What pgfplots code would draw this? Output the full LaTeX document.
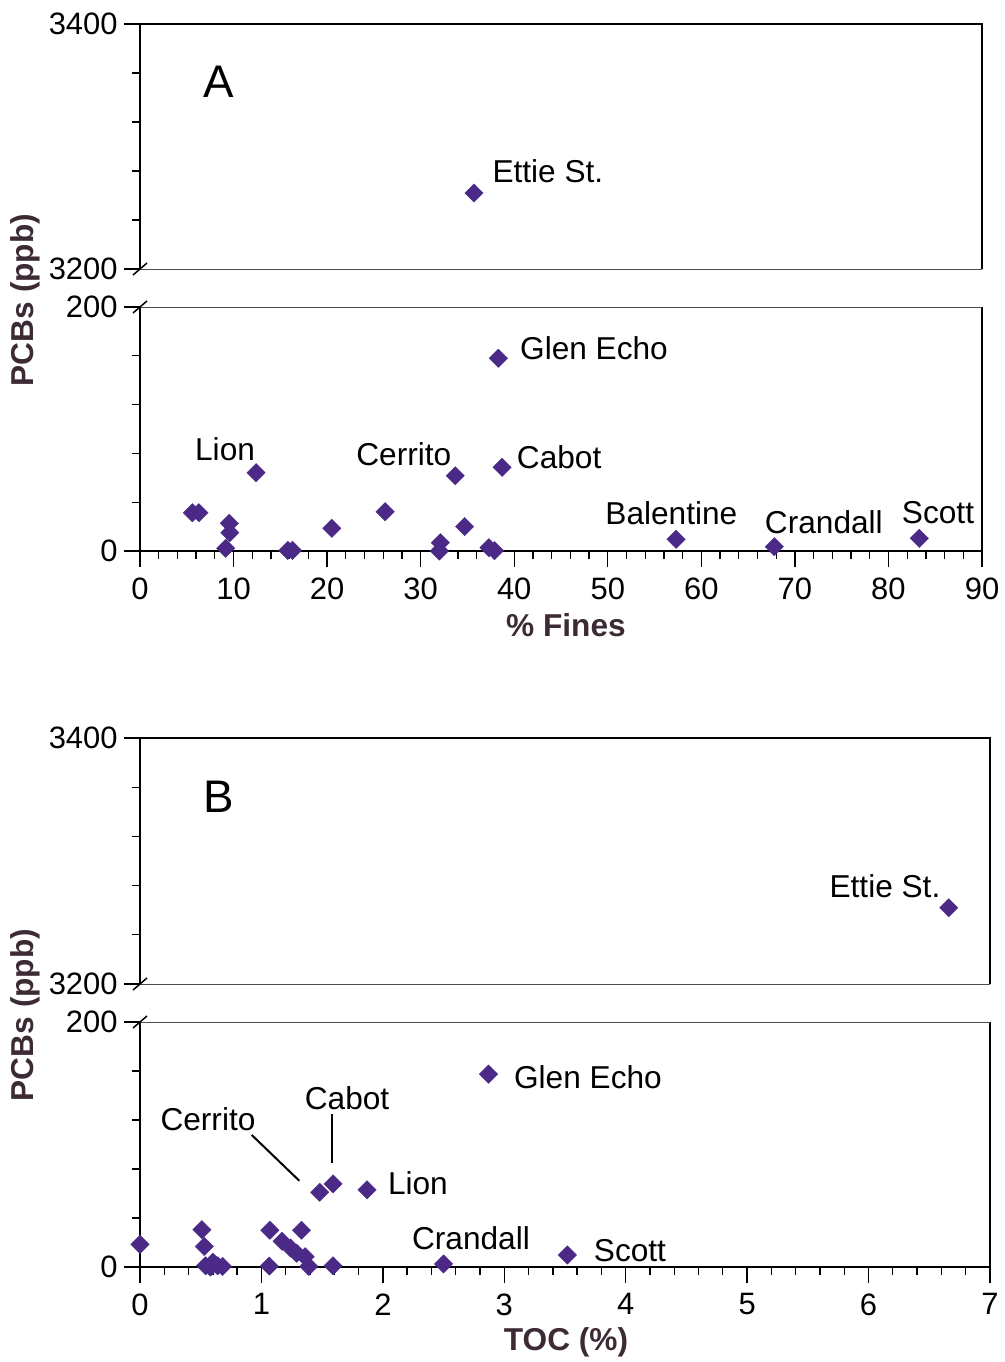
\documentclass[border=0pt]{standalone}
\usepackage{fontspec}
\setmainfont{Liberation Sans}
\usepackage{pgfplots}
\pgfplotsset{compat=1.18}
\definecolor{mk}{RGB}{75,42,135}
\definecolor{lab}{RGB}{60,42,52}
\pgfplotsset{
  brk/.style={
    scale only axis, clip=false,
    axis line style={draw=none},
    tick align=outside,
    major tick length=1.6mm, minor tick length=0.8mm,
    every tick/.style={black, line width=0.13mm},
    every minor tick/.style={black, line width=0.13mm},
    ticklabel style={font=\fontsize{8.8pt}{10pt}\selectfont},
    yticklabel style={xshift=0.6mm},
    xticklabel style={yshift=0.2mm},
    /pgf/number format/assume math mode=true,
    /pgf/number format/1000 sep={},
    scaled ticks=false,
    ytick pos=left, xtick pos=bottom,
    anchor=north west,
  },
  pts/.style={only marks, mark=square*, mark size=1.85pt, color=mk,
    mark options={draw=mk, fill=mk, line width=0.1pt, rotate=45}},
}
\tikzset{lbl/.style={font=\fontsize{9pt}{11pt}\selectfont, inner sep=0pt, anchor=center},
  big/.style={font=\fontsize{13pt}{15pt}\selectfont, inner sep=0pt},
  axl/.style={font=\fontsize{9pt}{11pt}\selectfont\bfseries, text=lab, inner sep=0pt}}
\newcommand{\topframe}{%
  \draw[line width=0.25mm] (rel axis cs:0,0) -- (rel axis cs:0,1) -- (rel axis cs:1,1) -- (rel axis cs:1,0);
  \draw[line width=0.1mm, black!70] (rel axis cs:0,0) -- (rel axis cs:1,0);
  \draw[line width=0.15mm] (rel axis cs:0,0) ++(-0.7mm,-0.6mm) -- ++(1.4mm,1.2mm);}
\newcommand{\botframe}{%
  \draw[line width=0.25mm] (rel axis cs:0,1) -- (rel axis cs:0,0) -- (rel axis cs:1,0) -- (rel axis cs:1,1);
  \draw[line width=0.1mm, black!70] (rel axis cs:0,1) -- (rel axis cs:1,1);
  \draw[line width=0.15mm] (rel axis cs:0,1) ++(-0.7mm,-0.6mm) -- ++(1.4mm,1.2mm);}
\begin{document}
\begin{tikzpicture}
\useasboundingbox (0,0) rectangle (100.4mm,-136.2mm);
% ---------------- Panel A top
\begin{axis}[brk, at={(14mm,-2.4mm)}, width=84.2mm, height=24.5mm,
  xmin=0, xmax=90, ymin=3200, ymax=3400,
  xtick=\empty, ytick={3200,3400}, minor ytick={3240,3280,3320,3360}]
\topframe
\addplot[pts] coordinates {(35.7,3262)};
\node[lbl] at (axis cs:43.6,3280) {Ettie St.};
\node[big] at (axis cs:8.44,3352.7) {A};
\end{axis}
% ---------------- Panel A bottom
\begin{axis}[brk, at={(14mm,-30.7mm)}, width=84.2mm, height=24.4mm,
  xmin=0, xmax=90, ymin=0, ymax=200,
  xtick={0,10,...,90}, minor x tick num=4,
  ytick={0,200}, minor ytick={40,80,120,160}]
\botframe
\addplot[pts] coordinates {
(5.6,31.4) (6.3,31.4) (9.16,2.2) (9.55,22.7) (9.6,15) (12.4,64.2)
(15.8,0.5) (16.3,0.5) (20.5,18.6) (26.2,32.2) (32.0,0) (32.1,6.8)
(33.7,61.7) (34.7,20) (37.3,2.7) (37.9,0.3) (38.3,158) (38.7,68.6)
(57.3,9.6) (67.8,3.5) (83.3,10.4)};
\node[lbl] at (axis cs:48.53,166.4) {Glen Echo};
\node[lbl] at (axis cs:9.09,83.6) {Lion};
\node[lbl] at (axis cs:28.2,79.5) {Cerrito};
\node[lbl] at (axis cs:44.8,77.0) {Cabot};
\node[lbl] at (axis cs:56.8,31.1) {Balentine};
\node[lbl] at (axis cs:73.1,23.8) {Crandall};
\node[lbl] at (axis cs:85.3,31.1) {Scott};
\end{axis}
\node[axl] at (56.6mm,-62.5mm) {\% Fines};
\node[axl, rotate=90] at (2.5mm,-30mm) {PCBs (ppb)};
% ---------------- Panel B top
\begin{axis}[brk, at={(14mm,-73.8mm)}, width=85mm, height=24.6mm,
  xmin=0, xmax=7, ymin=3200, ymax=3400,
  xtick=\empty, ytick={3200,3400}, minor ytick={3240,3280,3320,3360}]
\topframe
\addplot[pts] coordinates {(6.66,3262)};
\node[lbl] at (axis cs:6.135,3279.7) {Ettie St.};
\node[big] at (axis cs:0.65,3352) {B};
\end{axis}
% ---------------- Panel B bottom
\begin{axis}[brk, at={(14mm,-102.2mm)}, width=85mm, height=24.5mm,
  xmin=0, xmax=7, ymin=0, ymax=200,
  xtick={0,1,...,7}, minor x tick num=4,
  ytick={0,200}, minor ytick={40,80,120,160}]
\botframe
\addplot[pts] coordinates {
(0,18.5) (0.51,30.5) (0.53,16.8) (0.54,1) (0.6,4) (0.58,0) (0.64,1) (0.68,0.5)
(1.065,0.8) (1.07,30) (1.17,21) (1.24,15.5) (1.29,11.2) (1.33,30) (1.36,8.4)
(1.39,0.5) (1.48,61) (1.59,1) (1.59,67.8) (1.87,63) (2.50,2.5) (2.87,157.5) (3.52,9.8)};
\node[lbl] at (axis cs:3.689,155.1) {Glen Echo};
\node[lbl] at (axis cs:1.705,138) {Cabot};
\node[lbl] at (axis cs:0.56,120.8) {Cerrito};
\node[lbl] at (axis cs:2.289,68.6) {Lion};
\node[lbl] at (axis cs:2.726,23.7) {Crandall};
\node[lbl] at (axis cs:4.035,13.1) {Scott};
\draw[line width=0.2mm] (axis cs:0.92,107.8) -- (axis cs:1.312,70.4);
\draw[line width=0.2mm] (axis cs:1.579,124.7) -- (axis cs:1.579,84.7);
\end{axis}
\node[axl] at (56.6mm,-134.2mm) {TOC (\%)};
\node[axl, rotate=90] at (2.5mm,-101.5mm) {PCBs (ppb)};
\end{tikzpicture}
\end{document}
